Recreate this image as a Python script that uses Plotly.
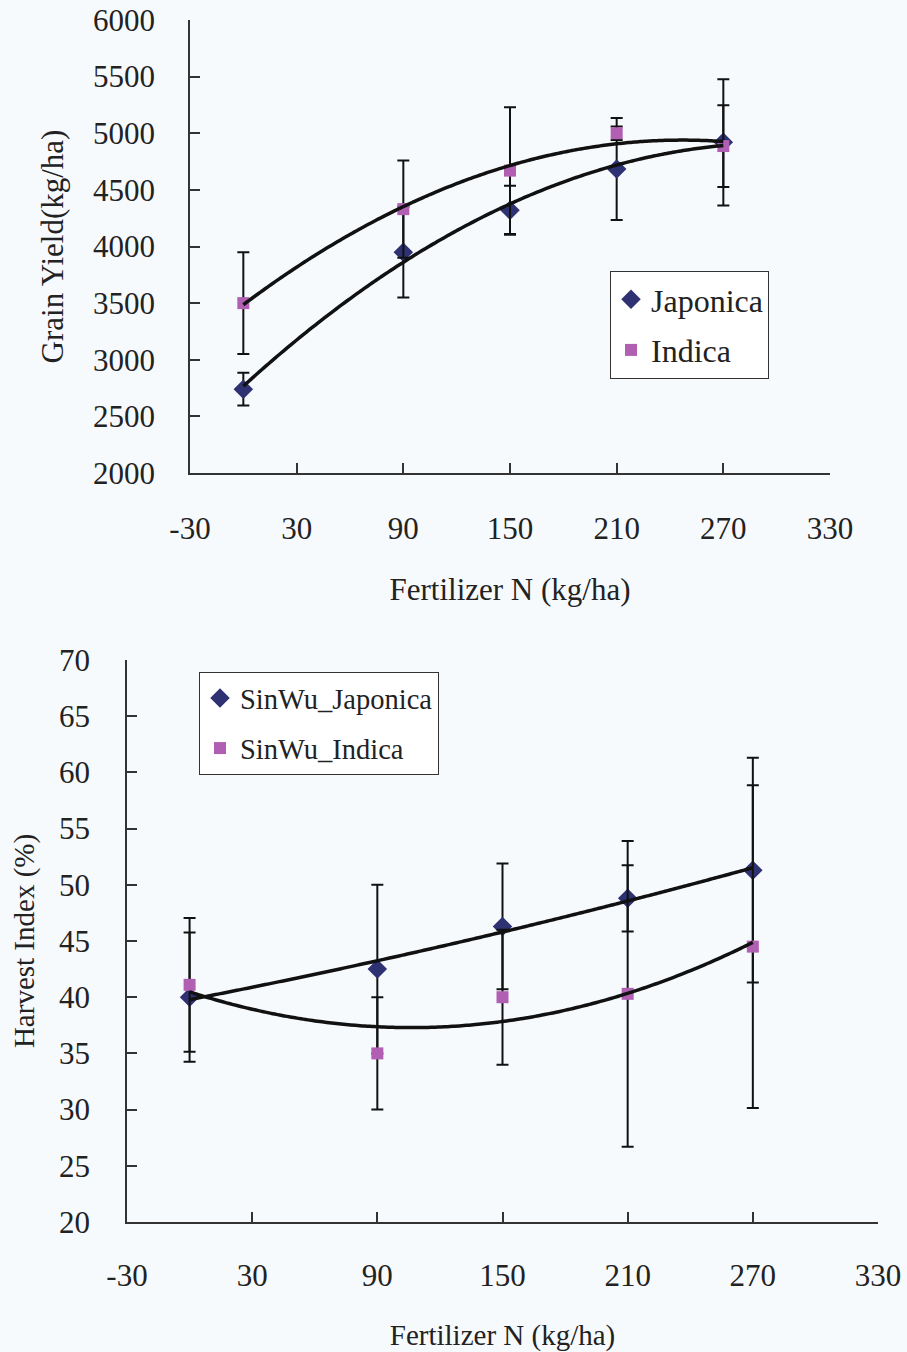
import numpy as np
import plotly.graph_objects as go

# ---------------- data ----------------
n_rate = [0, 90, 150, 210, 270]

yield_japonica = [2740, 3950, 4320, 4685, 4920]
yield_japonica_err = [145, 400, 216, 450, 557]
yield_indica = [3500, 4330, 4670, 5000, 4887]
yield_indica_err = [449, 430, 560, 60, 361]

hi_japonica = [40.0, 42.5, 46.3, 48.8, 51.3]
hi_japonica_err = [5.75, 7.5, 5.6, 2.95, 10.0]
hi_indica = [41.1, 35.0, 40.0, 40.3, 44.5]
hi_indica_err = [5.95, 5.0, 6.0, 13.6, 14.35]

x_ticks = [-30, 30, 90, 150, 210, 270, 330]
x_tick_labels = ["-30", "30", "90", "150", "210", "270", "330"]

# --------------- styles ---------------
FONT = "Liberation Serif"
C_JAP = "#2E3172"
C_IND = "#B05FB3"
BG = "#F7FAFD"

W, H = 907, 1352


def fx(px):
    return px / W


def fy(py):
    return 1 - py / H


def trend(x, y, deg=2):
    c = np.polyfit(x, y, deg)
    xs = np.linspace(min(x), max(x), 120)
    return xs, np.polyval(c, xs)


fig = go.Figure()


def add_series(x, y, err, name, color, symbol, size, xa, ya, legend, group):
    fig.add_trace(go.Scatter(
        x=x, y=y, mode="markers", name=name,
        marker=dict(symbol=symbol, size=size, color=color, line=dict(width=0)),
        error_y=dict(type="data", array=err, visible=True, color="#111111",
                     thickness=2, width=6),
        xaxis=xa, yaxis=ya, legend=legend, legendgroup=group,
    ))


def add_trend(x, y, xa, ya):
    xs, ys = trend(x, y)
    fig.add_trace(go.Scatter(
        x=xs, y=ys, mode="lines", showlegend=False, hoverinfo="skip",
        line=dict(color="#111111", width=3.5, shape="spline"),
        xaxis=xa, yaxis=ya,
    ))


# top chart
add_series(n_rate, yield_japonica, yield_japonica_err, "Japonica", C_JAP,
           "diamond", 15, "x", "y", "legend", "a")
add_series(n_rate, yield_indica, yield_indica_err, "Indica", C_IND,
           "square", 12, "x", "y", "legend", "b")
add_trend(n_rate, yield_japonica, "x", "y")
add_trend(n_rate, yield_indica, "x", "y")

# bottom chart
add_series(n_rate, hi_japonica, hi_japonica_err, "SinWu_Japonica", C_JAP,
           "diamond", 15, "x2", "y2", "legend2", "c")
add_series(n_rate, hi_indica, hi_indica_err, "SinWu_Indica", C_IND,
           "square", 12, "x2", "y2", "legend2", "d")
add_trend(n_rate, hi_japonica, "x2", "y2")
add_trend(n_rate, hi_indica, "x2", "y2")

axis_common = dict(
    showline=True, linecolor="#333333", linewidth=1.5, mirror=False,
    ticks="inside", ticklen=10, tickwidth=1.5, tickcolor="#333333",
    showgrid=False, zeroline=False, automargin=False,
    ticklabeloverflow="allow",
    tickfont=dict(family=FONT, size=31, color="#222222"),
)

fig.update_layout(
    width=W, height=H,
    margin=dict(l=0, r=0, t=0, b=0, autoexpand=False),
    paper_bgcolor=BG, plot_bgcolor=BG,
    font=dict(family=FONT, color="#222222"),
    xaxis=dict(**axis_common, domain=[fx(190), fx(830)], anchor="y",
               range=[-30, 330], tickvals=x_ticks, ticktext=x_tick_labels,
               ticklabelstandoff=27,
               title=dict(text="Fertilizer N (kg/ha)", standoff=33,
                          font=dict(family=FONT, size=31, color="#222222"))),
    yaxis=dict(**axis_common, domain=[fy(473), fy(20)], anchor="x",
               range=[2000, 6000], dtick=500, ticklabelstandoff=27,
               title=dict(text="Grain Yield(kg/ha)", standoff=20,
                          font=dict(family=FONT, size=31, color="#222222"))),
    xaxis2=dict(**axis_common, domain=[fx(127), fx(878)], anchor="y2",
                range=[-30, 330], tickvals=x_ticks, ticktext=x_tick_labels,
                ticklabelstandoff=25,
                title=dict(text="Fertilizer N (kg/ha)", standoff=38,
                           font=dict(family=FONT, size=29, color="#222222"))),
    yaxis2=dict(**axis_common, domain=[fy(1222), fy(660)], anchor="x2",
                range=[20, 70], dtick=5, ticklabelstandoff=29,
                title=dict(text="Harvest Index (%)", standoff=16,
                           font=dict(family=FONT, size=29, color="#222222"))),
    legend=dict(x=fx(610), y=fy(271), xanchor="left", yanchor="top",
                bgcolor="white", bordercolor="#333333", borderwidth=1,
                font=dict(family=FONT, size=32, color="#222222"),
                traceorder="grouped", tracegroupgap=6),
    legend2=dict(x=fx(199), y=fy(672), xanchor="left", yanchor="top",
                 bgcolor="white", bordercolor="#333333", borderwidth=1,
                 font=dict(family=FONT, size=28.5, color="#222222"),
                 traceorder="grouped", tracegroupgap=10),
    showlegend=True,
)

# remove the default page margin so the figure fills the window exactly
fig.write_html("out.html",
               config={"displayModeBar": False},
               post_script="document.body.style.margin='0';"
                           "document.body.style.overflow='hidden';")
